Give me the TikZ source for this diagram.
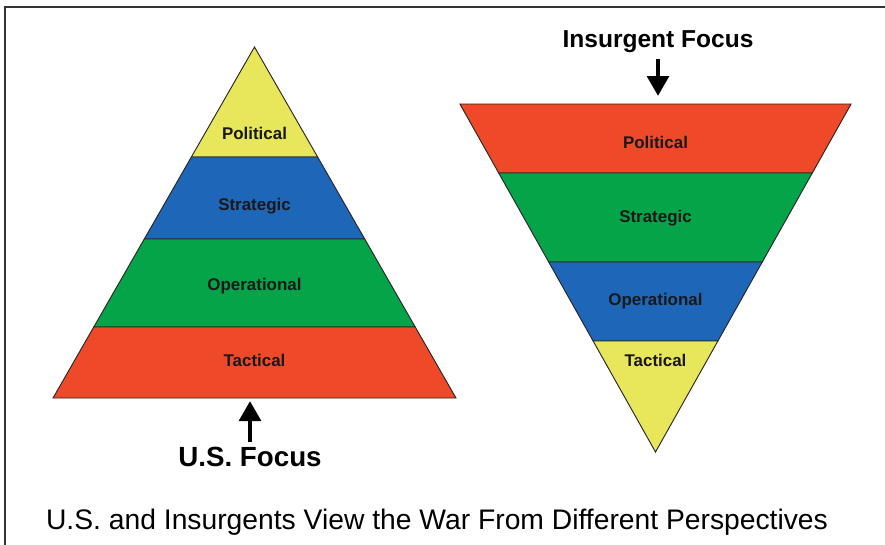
\documentclass[tikz,border=0pt]{standalone}
\usepackage{fontspec}
\setmainfont{Liberation Sans}
\usepackage{tikz}
\usetikzlibrary{calc,math,arrows.meta}

\definecolor{bandyellow}{HTML}{E8E65A}
\definecolor{bandblue}{HTML}{1E66B8}
\definecolor{bandgreen}{HTML}{06A448}
\definecolor{bandred}{HTML}{EE4A2A}

\tikzset{
  band/.style={draw=black!85,line width=0.7pt,line join=miter},
  bandlabel/.style={font=\fontsize{12.7}{15}\selectfont\bfseries,text=black!90,
    inner sep=0pt,text height=1.7ex,text depth=0.35ex,yshift=-1.5pt},
  focuslabel/.style={font=\fontsize{#1}{#1}\selectfont\bfseries,inner sep=1pt},
  focusarrow/.style={line width=3.6pt,-{Triangle[length=15pt,width=16pt]},shorten <=3pt}
}

\begin{document}
\begin{tikzpicture}[x=0.75pt,y=-0.75pt]
  \useasboundingbox (0,0) rectangle (885,544);
  \draw[line width=2pt,black!80] (5,546) -- (5,7) -- (887,7);

  % U.S. pyramid, apex up
  \foreach \ytop/\ybot/\col/\txt/\ylab/\name in {
      47/157/bandyellow/Political/133/lpol,
      157/239/bandblue/Strategic/204/lstr,
      239/327/bandgreen/Operational/284/lopr,
      327/398/bandred/Tactical/360/ltac} {
    \tikzmath{
      real \wt, \wb;
      \wt = (\ytop - 47) * 0.574;
      \wb = (\ybot - 47) * 0.574;
    }
    \filldraw[band,fill=\col] (254.5-\wt,\ytop) -- (254.5+\wt,\ytop)
      -- (254.5+\wb,\ybot) -- (254.5-\wb,\ybot) -- cycle;
    \node[bandlabel] (\name) at (254.5,\ylab) {\txt};
  }

  % insurgent pyramid, apex down
  \foreach \ytop/\ybot/\col/\txt/\ylab/\name in {
      104/173/bandred/Political/142/rpol,
      173/262/bandgreen/Strategic/216/rstr,
      262/341/bandblue/Operational/299/ropr,
      341/452/bandyellow/Tactical/360/rtac} {
    \tikzmath{
      real \wt, \wb;
      \wt = (452 - \ytop) * 0.562;
      \wb = (452 - \ybot) * 0.562;
    }
    \filldraw[band,fill=\col] (655.5-\wt,\ytop) -- (655.5+\wt,\ytop)
      -- (655.5+\wb,\ybot) -- (655.5-\wb,\ybot) -- cycle;
    \node[bandlabel] (\name) at (655.5,\ylab) {\txt};
  }

  % focus labels and arrows
  \node[focuslabel=20.8] (usfocus) at (250,457) {U.S. Focus};
  \coordinate (usbase) at (250,401);
  \draw[focusarrow] (usfocus.north) -- (usbase);

  \node[focuslabel=18.4] (insfocus) at (658,42) {Insurgent Focus};
  \coordinate (insbase) at (658,96);
  \draw[focusarrow] (insfocus.south) -- (insbase);

  \node[font=\fontsize{21.2}{24}\selectfont,inner sep=0pt] (caption) at (437,522)
    {U.S. and Insurgents View the War From Different Perspectives};
\end{tikzpicture}
\end{document}
